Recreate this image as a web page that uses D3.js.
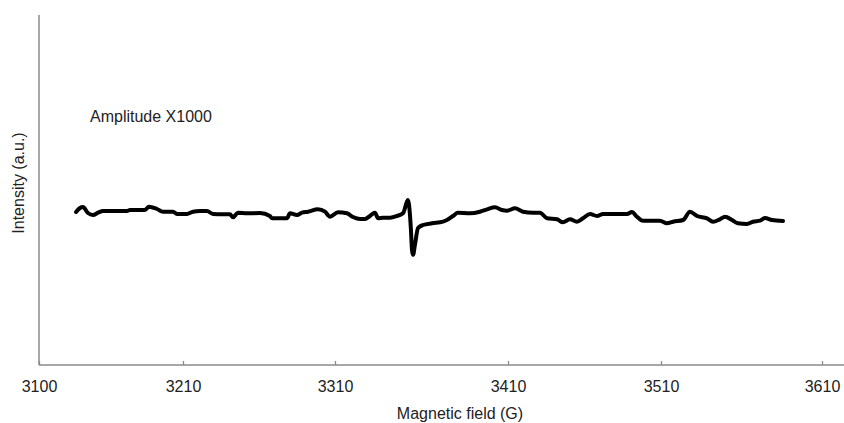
<!DOCTYPE html>
<html>
<head>
<meta charset="utf-8">
<script src="https://cdn.jsdelivr.net/npm/d3@7"></script>
<style>
  html, body { margin: 0; padding: 0; background: #fff; }
  svg { display: block; font-family: "Liberation Sans", Arial, sans-serif; }
</style>
</head>
<body>
<svg id="chart" width="844" height="423"></svg>
<script>
// Axis tick labels (G)
const fieldTicks = [3100, 3210, 3310, 3410, 3510, 3610];

// EPR trace: magnetic field (G) and intensity (a.u.)
const field = [
  3128.3, 3131.3, 3133.6, 3137.4, 3141.3, 3145.1, 3148.9, 3167.2, 3169.5, 3181.0,
  3184.0, 3190.1, 3194.7, 3202.4, 3205.4, 3212.6, 3216.6, 3221.2, 3225.8, 3229.7,
  3236.3, 3240.9, 3242.9, 3246.2, 3252.1, 3260.7, 3267.2, 3268.6, 3278.4, 3280.4,
  3285.0, 3288.3, 3292.2, 3298.8, 3303.4, 3306.7, 3311.7, 3316.9, 3320.4, 3324.5,
  3327.3, 3330.2, 3333.1, 3334.9, 3337.7, 3341.8, 3345.8, 3349.3, 3351.6, 3352.2,
  3352.8, 3353.9, 3354.5, 3355.1, 3356.2, 3358.0, 3360.9, 3366.1, 3372.4, 3374.7,
  3378.2, 3381.1, 3388.0, 3393.8, 3397.9, 3402.5, 3406.5, 3409.4, 3414.6, 3419.8,
  3426.3, 3430.9, 3435.5, 3442.0, 3445.9, 3450.5, 3455.1, 3459.0, 3463.6, 3468.2,
  3472.1, 3478.6, 3487.8, 3491.0, 3494.3, 3498.2, 3504.8, 3509.3, 3513.7, 3517.5,
  3523.7, 3528.0, 3532.4, 3538.6, 3542.3, 3546.6, 3549.8, 3554.1, 3557.8, 3563.4,
  3567.1, 3571.5, 3574.6, 3578.9, 3585.8
];
const intensity = [
  -22, -18, -17, -23, -25, -22.7, -21, -21, -20, -20,
  -16.7, -19, -21.7, -21.7, -24, -24, -21.7, -21, -21, -24,
  -24.3, -24.3, -27.3, -22.7, -23.3, -23, -26, -28.3, -28.3, -23.3,
  -25, -22.7, -21.7, -19.3, -21.7, -26.7, -22.3, -23.3, -27, -29,
  -29, -26, -22.7, -28.3, -27.7, -27.7, -26, -23.3, -11.7, -10,
  -15, -40, -60, -65, -55, -38, -35, -33.3, -31.7, -30,
  -26, -22.7, -23.3, -21.7, -19.3, -17.3, -20, -20.7, -18.3, -21.7,
  -22.7, -22.7, -28.3, -29.3, -32.3, -29.3, -31.7, -28.3, -24, -26,
  -24, -24, -24, -22, -26.7, -30.7, -30.7, -30.7, -33.3, -31.7,
  -30, -21.7, -26, -28.3, -31.7, -29.3, -26.7, -30, -33.3, -34,
  -31.7, -30.7, -28, -30, -31
];

const W = 844, H = 423;
const plotLeft = 39, plotTop = 15, plotBottom = 365;
// horizontal placement of the labelled field values along the axis
const tickOffsets = [0, 144, 296, 469, 622, 783];

const svg = d3.select("#chart");

const x = d3.scaleLinear()
  .domain(fieldTicks)
  .range(tickOffsets.map(d => plotLeft + d));

const y = d3.scaleLinear()
  .domain([-175, 175])
  .range([plotBottom, plotTop]);

const axisColor = "#8a8a8a";
const textColor = "#222";
const fontSize = "16px";

// x axis
const xAxis = d3.axisBottom(x)
  .tickValues(fieldTicks)
  .tickFormat(d3.format("d"))
  .tickSizeInner(-4)
  .tickSizeOuter(0)
  .tickPadding(16);

const gx = svg.append("g")
  .attr("transform", `translate(0,${plotBottom})`)
  .call(xAxis);
gx.select(".domain").remove();
gx.selectAll(".tick line").attr("stroke", axisColor).attr("stroke-width", 1.3);
gx.selectAll(".tick text")
  .attr("fill", textColor)
  .style("font-size", fontSize)
  .style("font-family", "'Liberation Sans', Arial, sans-serif");

svg.append("line")
  .attr("x1", x(fieldTicks[0])).attr("x2", W)
  .attr("y1", plotBottom).attr("y2", plotBottom)
  .attr("stroke", axisColor).attr("stroke-width", 1.5);

// y axis (no ticks)
svg.append("line")
  .attr("x1", plotLeft).attr("x2", plotLeft)
  .attr("y1", plotTop).attr("y2", plotBottom)
  .attr("stroke", axisColor).attr("stroke-width", 1.5);

// trace
const pts = field.map((f, i) => [f, intensity[i]]);
const line = d3.line()
  .x(d => x(d[0]))
  .y(d => y(d[1]))
  .curve(d3.curveMonotoneX);

svg.append("path")
  .datum(pts)
  .attr("d", line)
  .attr("fill", "none")
  .attr("stroke", "#000")
  .attr("stroke-width", 4)
  .attr("stroke-linejoin", "round")
  .attr("stroke-linecap", "round");

// labels
svg.append("text")
  .attr("x", 90).attr("y", 122)
  .attr("fill", textColor)
  .style("font-size", fontSize)
  .text("Amplitude X1000");

svg.append("text")
  .attr("x", 460).attr("y", 419)
  .attr("text-anchor", "middle")
  .attr("fill", textColor)
  .style("font-size", fontSize)
  .text("Magnetic field (G)");

svg.append("text")
  .attr("transform", "translate(24,183) rotate(-90)")
  .attr("text-anchor", "middle")
  .attr("fill", textColor)
  .style("font-size", fontSize)
  .text("Intensity (a.u.)");
</script>
</body>
</html>
